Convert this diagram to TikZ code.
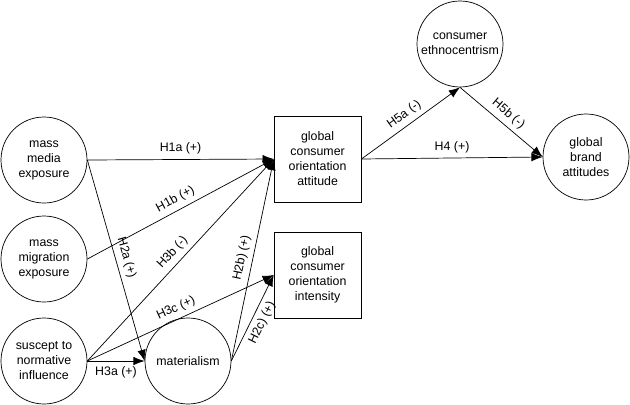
\documentclass[tikz,border=0pt]{standalone}
\usepackage{fontspec}
\setmainfont{Liberation Sans}
\usetikzlibrary{arrows.meta}

\begin{document}
\begin{tikzpicture}[
        font=\fontsize{8.8}{10.7}\selectfont,
        var/.style={draw, circle, minimum size=2.15cm, inner sep=0pt, align=center, line width=0.5pt},
        construct/.style={draw, rectangle, minimum width=2.175cm, minimum height=2.15cm, inner sep=0pt, align=center, line width=0.5pt},
        hyp/.style={-{Latex[length=2.8mm,width=2.1mm]}, line width=0.5pt}
    ]
            \useasboundingbox (0,0) rectangle (15.75,-10.125);

            \node (media) at (1.1,-4.0) [var] {mass\\media\\exposure};
            \node (migration) at (1.1,-6.475) [var] {mass\\migration\\exposure};
            \node (suscept) at (1.1,-9.025) [var] {suscept to\\normative\\influence};
            \node (materialism) at (4.7,-9.025) [var] {materialism};
            \node (attitude) at (7.94,-3.975) [construct] {global\\consumer\\orientation\\attitude};
            \node (intensity) at (7.94,-6.875) [construct] {global\\consumer\\orientation\\intensity};
            \node (ethno) at (11.5,-1.1) [var] {consumer\\ethnocentrism};
            \node (brand) at (14.65,-3.925) [var] {global\\brand\\attitudes};

            \draw [hyp] (media.east) -- node [above] {H1a (+)} (attitude.west);
            \draw [hyp] (migration.east) -- node [above, sloped] {H1b (+)} (attitude.west);
            \draw [hyp] (media.east) -- node [above, sloped] {H2a (+)} (materialism.west);
            \draw [hyp] (suscept.east) -- node [below] {H3a (+)} (materialism.west);
            \draw [hyp] (suscept.east) -- node [above, sloped] {H3b (-)} (attitude.west);
            \draw [hyp] (suscept.east) -- node [above, sloped] {H3c (+)} (intensity.west);
            \draw [hyp] (materialism.east) -- node [above, sloped] {H2b) (+)} (attitude.west);
            \draw [hyp] (materialism.east) -- node [below, sloped] {H2c) (+)} (intensity.west);
            \draw [hyp] (attitude.east) -- node [above, sloped] {H5a (-)} (ethno.south);
            \draw [hyp] (attitude.east) -- node [above] {H4 (+)} (brand.west);
            \draw [hyp] (ethno.south) -- node [above, sloped] {H5b (-)} (brand.west);

        \end{tikzpicture}
\end{document}
